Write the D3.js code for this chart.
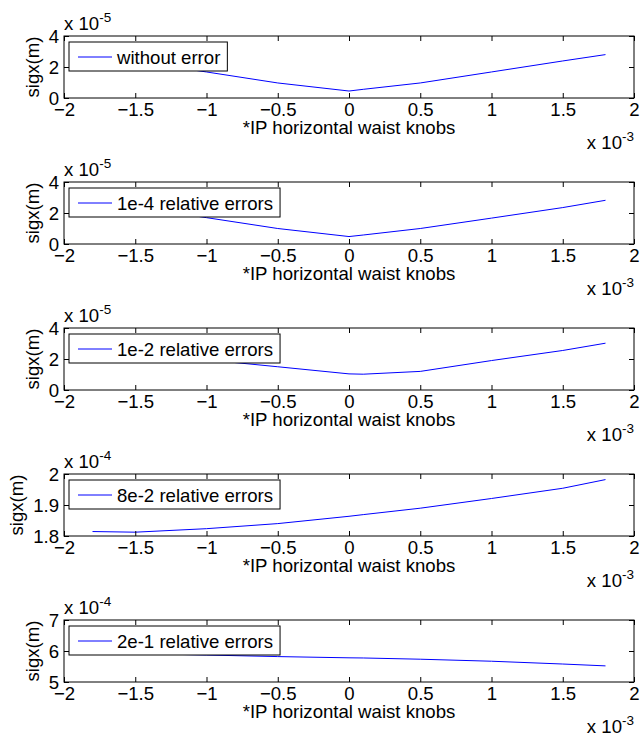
<!DOCTYPE html>
<html lang="en">
<head>
<meta charset="UTF-8">
<title>sigx vs IP waist knobs</title>
<script src="https://d3js.org/d3.v7.min.js"></script>
<style>
  body { margin: 0; background: #fff; }
  text { font-family: "Liberation Sans", Arial, sans-serif; fill: #000; }
</style>
</head>
<body>
<div id="chart"></div>
<script>
// knob settings (x 1e-3)
const knobs = [-1.8, -1.5, -1, -0.5, 0, 0.1, 0.5, 1, 1.5, 1.8];

// sigx values, scaled by the exponent of each panel
const sigxNoError = [2.8, 2.35, 1.68, 0.97, 0.45, 0.56, 0.97, 1.68, 2.39, 2.8];
const sigx1e4 = [2.85, 2.4, 1.7, 1.0, 0.48, 0.58, 1.0, 1.67, 2.35, 2.82];
const sigx1e2 = [2.9, 2.45, 1.95, 1.5, 1.04, 1.02, 1.2, 1.9, 2.55, 3.02];
const sigx8e2 = [1.8144, 1.8123, 1.8236, 1.840, 1.8636, 1.869, 1.8897, 1.921, 1.954, 1.982];
const sigx2e1 = [5.95, 5.92, 5.87, 5.82, 5.78, 5.775, 5.735, 5.67, 5.58, 5.52];

const legendNames = ["without error", "1e-4 relative errors", "1e-2 relative errors",
                     "8e-2 relative errors", "2e-1 relative errors"];
const yDomains = [[0, 4], [0, 4], [0, 4], [1.8, 2], [5, 7]];
const yTicks = [[0, 2, 4], [0, 2, 4], [0, 2, 4], [1.8, 1.9, 2], [5, 6, 7]];
const yExps = ["-5", "-5", "-5", "-4", "-4"];
const xTicks = [-2, -1.5, -1, -0.5, 0, 0.5, 1, 1.5, 2];
const xExp = "-3";
const xLabel = "*IP horizontal waist knobs";
const yLabel = "sigx(m)";

const seriesList = [sigxNoError, sigx1e4, sigx1e2, sigx8e2, sigx2e1];

const W = 641, H = 738;
const left = 64, right = 634;
const top0 = 36, step = 146, ph = 62;
const fs = 18.6;     // all text
const sfs = 13.5;    // superscripts
const tick = 5;

const svg = d3.select("#chart").append("svg")
  .attr("width", W).attr("height", H)
  .style("font-size", fs + "px");

const xScale = d3.scaleLinear().domain([-2, 2]).range([left, right]);

seriesList.forEach((vals, i) => {
  const top = top0 + i * step;
  const bottom = top + ph;
  const yScale = d3.scaleLinear().domain(yDomains[i]).range([bottom, top]);
  const g = svg.append("g");

  // data line (drawn first, legend covers it)
  const data = knobs.map((k, j) => ({ k: k, v: vals[j] }));
  g.append("path")
    .datum(data)
    .attr("fill", "none")
    .attr("stroke", "#0000ff")
    .attr("stroke-width", 1)
    .attr("d", d3.line().x(d => xScale(d.k)).y(d => yScale(d.v)));

  // axes with inward ticks
  g.append("g").attr("transform", "translate(0," + bottom + ")")
    .call(d3.axisBottom(xScale).tickValues(xTicks).tickSizeInner(-tick).tickSizeOuter(0)
      .tickPadding(5).tickFormat(d3.format("")));
  g.append("g").attr("transform", "translate(0," + top + ")")
    .call(d3.axisTop(xScale).tickValues(xTicks).tickSizeInner(-tick).tickSizeOuter(0).tickFormat(""));
  const ay = g.append("g").attr("transform", "translate(" + left + ",0)")
    .call(d3.axisLeft(yScale).tickValues(yTicks[i]).tickSizeInner(-tick).tickSizeOuter(0)
      .tickPadding(5).tickFormat(d3.format("")));
  g.append("g").attr("transform", "translate(" + right + ",0)")
    .call(d3.axisRight(yScale).tickValues(yTicks[i]).tickSizeInner(-tick).tickSizeOuter(0).tickFormat(""));
  g.selectAll(".domain").remove();
  g.selectAll(".tick line").attr("stroke", "#000");
  g.selectAll(".tick text").attr("font-size", fs).attr("font-family", null).attr("fill", "#000");
  ay.selectAll(".tick text").attr("dy", "0.35em");

  // box
  g.append("rect")
    .attr("x", left).attr("y", top)
    .attr("width", right - left).attr("height", ph)
    .attr("fill", "none").attr("stroke", "#000").attr("stroke-width", 1);

  // y exponent
  const ye = g.append("text").attr("x", left).attr("y", top - 6);
  ye.append("tspan").text("x 10");
  ye.append("tspan").attr("dy", -8).attr("font-size", sfs).text(yExps[i]);

  // x exponent
  const xe = g.append("text").attr("x", right).attr("y", bottom + 51).attr("text-anchor", "end");
  xe.append("tspan").text("x 10");
  xe.append("tspan").attr("dy", -8).attr("font-size", sfs).text(xExp);

  // x label
  g.append("text").attr("x", (left + right) / 2).attr("y", bottom + 36)
    .attr("text-anchor", "middle").text(xLabel);

  // y label placed left of widest tick label
  let maxW = 0;
  ay.selectAll(".tick text").each(function () { maxW = Math.max(maxW, this.getComputedTextLength()); });
  const lx = left - 5 - maxW - 10;
  g.append("text")
    .attr("transform", "translate(" + lx + "," + ((top + bottom) / 2) + ") rotate(-90)")
    .attr("text-anchor", "middle").text(yLabel);

  // legend
  const lg = g.append("g");
  const box = lg.append("rect")
    .attr("x", left + 5).attr("y", top + 6).attr("height", 29)
    .attr("fill", "#fff").attr("stroke", "#000").attr("stroke-width", 1);
  lg.append("line")
    .attr("x1", left + 14).attr("x2", left + 48)
    .attr("y1", top + 21).attr("y2", top + 21)
    .attr("stroke", "#0000ff").attr("stroke-width", 1);
  const lt = lg.append("text").attr("x", left + 53).attr("y", top + 21).attr("dy", "0.35em")
    .text(legendNames[i]);
  box.attr("width", 55 + lt.node().getComputedTextLength());
});
</script>
</body>
</html>
